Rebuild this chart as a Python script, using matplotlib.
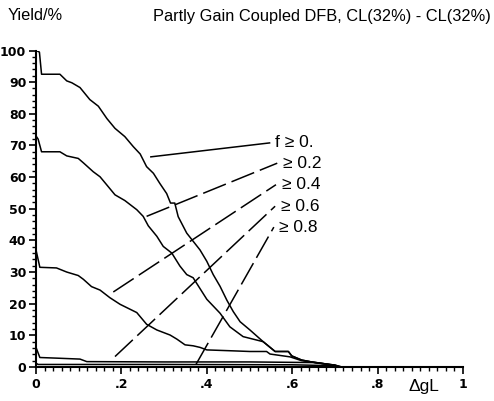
import numpy as np
import matplotlib.pyplot as plt
from matplotlib.ticker import MultipleLocator

# yield curves, one per threshold of f
x0 = [0, 0.008, 0.013, 0.056, 0.072, 0.084, 0.103, 0.126, 0.146, 0.166, 0.185, 0.208, 0.228, 0.244,
      0.259, 0.275, 0.29, 0.306, 0.315, 0.325, 0.333, 0.353, 0.384, 0.4, 0.415, 0.431, 0.447, 0.462,
      0.478, 0.501, 0.532, 0.56, 0.591, 0.599, 0.622, 0.649, 0.7, 0.716]
y0 = [100, 99.5, 92.5, 92.5, 90.4, 89.8, 88.3, 84.5, 82.4, 78.5, 75.4, 72.8, 69.6, 67.3,
      63.3, 61.2, 58, 54.8, 51.8, 51.8, 47.5, 42.3, 37, 33.4, 29.2, 25.5, 21.1, 17.5,
      14.3, 11.7, 8, 4.9, 4.9, 3.5, 2.2, 1.5, 0.6, 0]

x2 = [0, 0.005, 0.013, 0.056, 0.072, 0.099, 0.111, 0.134, 0.15, 0.166, 0.185, 0.208, 0.236, 0.251,
      0.263, 0.283, 0.298, 0.318, 0.337, 0.353, 0.368, 0.4, 0.431, 0.454, 0.485, 0.532, 0.56, 0.591,
      0.599, 0.622, 0.649, 0.7, 0.716]
y2 = [73, 72, 68, 68, 66.7, 65.9, 64.5, 61.7, 60.1, 57.5, 54.4, 52.6, 49.7, 47.6,
      44.6, 41.3, 38.1, 36, 31.9, 29.2, 28.2, 21.4, 17, 12.7, 9.6, 8, 4.9, 4.9,
      3.5, 2.2, 1.5, 0.6, 0]

x4 = [0, 0.009, 0.048, 0.072, 0.099, 0.111, 0.13, 0.15, 0.173, 0.197, 0.212, 0.236, 0.259, 0.283,
      0.314, 0.33, 0.349, 0.368, 0.384, 0.4, 0.462, 0.501, 0.54, 0.548, 0.595, 0.622, 0.657, 0.7, 0.71]
y4 = [37, 31.5, 31.3, 30, 28.9, 27.7, 25.4, 24.3, 21.9, 19.8, 18.8, 17.2, 13.5, 11.7,
      10.1, 8.8, 7, 6.7, 6.2, 5.4, 5.1, 4.9, 4.9, 4.1, 3.2, 2.0, 1.4, 0.5, 0]

x6 = [0, 0.009, 0.048, 0.103, 0.119, 0.3, 0.5, 0.65, 0.7, 0.71]
y6 = [6.2, 3, 2.8, 2.5, 1.7, 1.6, 1.6, 1.4, 0.5, 0]

x8 = [0, 0.005, 0.3, 0.6, 0.7, 0.71]
y8 = [1.2, 0.8, 0.8, 0.7, 0.4, 0]

labels = ['f \u2265 0.', '\u2265 0.2', '\u2265 0.4', '\u2265 0.6', '\u2265 0.8']
# where each leader line touches its curve
tip_x = [0.269, 0.259, 0.181, 0.185, 0.375]
tip_y = [66.4, 47.6, 23.7, 3.3, 0.9]
# label anchor
lab_x = [0.56, 0.578, 0.575, 0.573, 0.57]
lab_y = [70.8, 64.4, 57.6, 50.8, 44.2]

xticks = [0, 0.2, 0.4, 0.6, 0.8, 1]
xticklabels = ['0', '.2', '.4', '.6', '.8', '1']

plt.rcParams['font.family'] = ['Liberation Sans', 'DejaVu Sans']

fig = plt.figure(figsize=(4.94, 4.01), dpi=100)
ax = fig.add_axes([36/494, 34/401, 427/494, 316.5/401])

for xs, ys in [(x0, y0), (x2, y2), (x4, y4), (x6, y6), (x8, y8)]:
    ax.plot(xs, ys, color='black', lw=1.1)

for k in range(len(labels)):
    ls = '-' if k == 0 else (0, (16, 4))
    ax.plot([tip_x[k], lab_x[k] - 0.013], [tip_y[k], lab_y[k]], color='black', lw=1.1, linestyle=ls)
    ax.text(lab_x[k], lab_y[k], labels[k], fontsize=12.5, ha='left', va='center')

ax.set_xlim(0, 1)
ax.set_ylim(0, 100)
ax.spines['top'].set_visible(False)
ax.spines['right'].set_visible(False)
ax.spines['left'].set_linewidth(1.5)
ax.spines['bottom'].set_linewidth(1.5)

ax.set_xticks(xticks)
ax.set_xticklabels(xticklabels)
ax.set_yticks(np.arange(0, 101, 10))
ax.xaxis.set_minor_locator(MultipleLocator(0.02))
ax.yaxis.set_minor_locator(MultipleLocator(2))
ax.tick_params(which='major', length=5, width=1.2, labelsize=9)
ax.tick_params(which='minor', length=3, width=1.0)
for t in ax.get_xticklabels() + ax.get_yticklabels():
    t.set_family('DejaVu Sans')
    t.set_fontweight('bold')
ax.tick_params(axis='y', pad=2)
ax.tick_params(axis='x', pad=3)

fig.text(8/494, 1 - 16/401, 'Yield/%', fontsize=11.8, ha='left', va='center')
fig.text(153/494, 1 - 16/401, 'Partly Gain Coupled DFB, CL(32%) - CL(32%)', fontsize=11.8,
         ha='left', va='center')
fig.text(408/494, 1 - 387/401, '\u0394gL', fontsize=12.5, ha='left', va='center')

fig.savefig('out.png', dpi=100)
